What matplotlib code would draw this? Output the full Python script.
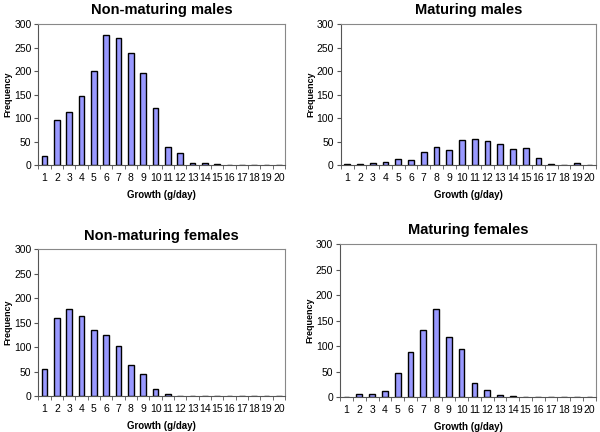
import numpy as np
import matplotlib.pyplot as plt

plt.rcParams['font.family'] = ['Liberation Sans', 'DejaVu Sans']

# data
growth = np.arange(1, 21)
nonmat_males = [19, 95, 114, 146, 200, 276, 270, 239, 197, 122, 39, 26, 5, 5, 2, 0, 0, 0, 0, 0]
mat_males = [2, 2, 5, 6, 12, 10, 28, 38, 33, 53, 56, 51, 45, 34, 37, 16, 2, 0, 4, 0]
nonmat_females = [55, 160, 178, 164, 136, 125, 103, 63, 46, 15, 5, 1, 0, 1, 0, 0, 0, 0, 0, 0]
mat_females = [0, 5, 6, 12, 48, 88, 131, 173, 118, 94, 28, 13, 3, 2, 0, 0, 0, 0, 0, 0]

panels = [
    ("Non-maturing males", nonmat_males, [0.064, 0.618, 0.411, 0.326]),
    ("Maturing males", mat_males, [0.568, 0.618, 0.425, 0.326]),
    ("Non-maturing females", nonmat_females, [0.064, 0.083, 0.411, 0.340]),
    ("Maturing females", mat_females, [0.567, 0.081, 0.426, 0.354]),
]

fig = plt.figure(figsize=(6, 4.32), dpi=100)

for title, vals, rect in panels:
    ax = fig.add_axes(rect)
    ax.bar(growth, vals, width=0.45, color='#9999ff', edgecolor='black', linewidth=1.0)
    ax.set_xlim(0.5, 20.5)
    ax.set_ylim(0, 300)
    ax.set_yticks(range(0, 301, 50))
    ax.set_xticks(growth)
    ax.set_xticks(np.arange(0.5, 21, 1), minor=True)
    ax.tick_params(axis='x', which='major', length=0, labelsize=7.5, pad=6)
    ax.tick_params(axis='x', which='minor', length=3, color='#555555')
    ax.tick_params(axis='y', labelsize=7.5, length=3, color='#555555', pad=2)
    for s in ax.spines.values():
        s.set_color('#888888')
    ax.spines['left'].set_color('#555555')
    ax.spines['bottom'].set_color('#555555')
    ax.set_title(title, fontsize=10.5, fontweight='bold', pad=7)
    ax.set_xlabel("Growth (g/day)", fontsize=7, fontweight='bold', labelpad=5)
    ax.set_ylabel("Frequency", fontsize=6.5, fontweight='bold', labelpad=1)

fig.savefig('out.png', dpi=100)
